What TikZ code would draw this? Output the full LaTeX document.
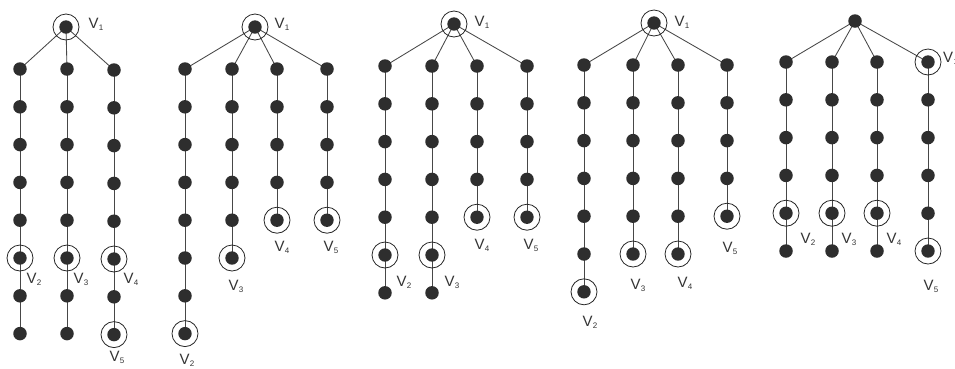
\documentclass[tikz,border=0pt]{standalone}
\usepackage{fontspec}
\setmainfont{Liberation Sans}
\usetikzlibrary{positioning,backgrounds}

\newcommand{\vname}[1]{V\kern0.3pt\raisebox{-2.2pt}{\fontsize{8}{8}\selectfont#1}}

\begin{document}
\begin{tikzpicture}[x=1pt,y=-1pt,node distance=37.8pt,
                    dot node/.style={circle,fill=black!82,minimum size=13.5pt,inner sep=0pt},
                    ring node/.style={circle,draw=black!85,line width=0.8pt,minimum size=26pt,inner sep=0pt,
                      path picture={\fill[black!82] (path picture bounding box.center) circle (6.7pt);}},
                    vlabel/.style={inner sep=0pt,text=black!80,font=\fontsize{15}{15}\selectfont},
                    every edge/.style={draw=black!72,line width=0.85pt}]

  \useasboundingbox (0,0) rectangle (955,368);

  % first tree
  \node[ring node] (R1) at (66,27) {};
  \node[dot node] (1A1) at (20,69) {};
  \node[dot node] (1A2) [below of=1A1] {};
  \node[dot node] (1A3) [below of=1A2] {};
  \node[dot node] (1A4) [below of=1A3] {};
  \node[dot node] (1A5) [below of=1A4] {};
  \node[ring node] (1A6) [below of=1A5] {};
  \node[dot node] (1A7) [below of=1A6] {};
  \node[dot node] (1A8) [below of=1A7] {};
  \node[dot node] (1B1) at (67,69) {};
  \node[dot node] (1B2) [below of=1B1] {};
  \node[dot node] (1B3) [below of=1B2] {};
  \node[dot node] (1B4) [below of=1B3] {};
  \node[dot node] (1B5) [below of=1B4] {};
  \node[ring node] (1B6) [below of=1B5] {};
  \node[dot node] (1B7) [below of=1B6] {};
  \node[dot node] (1B8) [below of=1B7] {};
  \node[dot node] (1C1) at (114,70) {};
  \node[dot node] (1C2) [below of=1C1] {};
  \node[dot node] (1C3) [below of=1C2] {};
  \node[dot node] (1C4) [below of=1C3] {};
  \node[dot node] (1C5) [below of=1C4] {};
  \node[ring node] (1C6) [below of=1C5] {};
  \node[dot node] (1C7) [below of=1C6] {};
  \node[ring node] (1C8) [below of=1C7] {};
  \node[vlabel] (1L1) at (96,24) {\vname{1}};
  \node[vlabel] (1L2) at (34,279) {\vname{2}};
  \node[vlabel] (1L3) at (81,279) {\vname{3}};
  \node[vlabel] (1L4) at (131,279) {\vname{4}};
  \node[vlabel] (1L5) at (117,357) {\vname{5}};

  % second tree
  \node[ring node] (R2) at (255,27) {};
  \node[dot node] (2A1) at (185,69) {};
  \node[dot node] (2A2) [below of=2A1] {};
  \node[dot node] (2A3) [below of=2A2] {};
  \node[dot node] (2A4) [below of=2A3] {};
  \node[dot node] (2A5) [below of=2A4] {};
  \node[dot node] (2A6) [below of=2A5] {};
  \node[dot node] (2A7) [below of=2A6] {};
  \node[ring node] (2A8) [below of=2A7] {};
  \node[dot node] (2B1) at (232,69) {};
  \node[dot node] (2B2) [below of=2B1] {};
  \node[dot node] (2B3) [below of=2B2] {};
  \node[dot node] (2B4) [below of=2B3] {};
  \node[dot node] (2B5) [below of=2B4] {};
  \node[ring node] (2B6) [below of=2B5] {};
  \node[dot node] (2C1) at (277,69) {};
  \node[dot node] (2C2) [below of=2C1] {};
  \node[dot node] (2C3) [below of=2C2] {};
  \node[dot node] (2C4) [below of=2C3] {};
  \node[ring node] (2C5) [below of=2C4] {};
  \node[dot node] (2D1) at (327,69) {};
  \node[dot node] (2D2) [below of=2D1] {};
  \node[dot node] (2D3) [below of=2D2] {};
  \node[dot node] (2D4) [below of=2D3] {};
  \node[ring node] (2D5) [below of=2D4] {};
  \node[vlabel] (2L1) at (282,24) {\vname{1}};
  \node[vlabel] (2L2) at (187,360) {\vname{2}};
  \node[vlabel] (2L3) at (236,286) {\vname{3}};
  \node[vlabel] (2L4) at (282,247) {\vname{4}};
  \node[vlabel] (2L5) at (331,247) {\vname{5}};

  % third tree
  \node[ring node] (R3) at (454,24) {};
  \node[dot node] (3A1) at (385,66) {};
  \node[dot node] (3A2) [below of=3A1] {};
  \node[dot node] (3A3) [below of=3A2] {};
  \node[dot node] (3A4) [below of=3A3] {};
  \node[dot node] (3A5) [below of=3A4] {};
  \node[ring node] (3A6) [below of=3A5] {};
  \node[dot node] (3A7) [below of=3A6] {};
  \node[dot node] (3B1) at (432,66) {};
  \node[dot node] (3B2) [below of=3B1] {};
  \node[dot node] (3B3) [below of=3B2] {};
  \node[dot node] (3B4) [below of=3B3] {};
  \node[dot node] (3B5) [below of=3B4] {};
  \node[ring node] (3B6) [below of=3B5] {};
  \node[dot node] (3B7) [below of=3B6] {};
  \node[dot node] (3C1) at (477,66) {};
  \node[dot node] (3C2) [below of=3C1] {};
  \node[dot node] (3C3) [below of=3C2] {};
  \node[dot node] (3C4) [below of=3C3] {};
  \node[ring node] (3C5) [below of=3C4] {};
  \node[dot node] (3D1) at (527,66) {};
  \node[dot node] (3D2) [below of=3D1] {};
  \node[dot node] (3D3) [below of=3D2] {};
  \node[dot node] (3D4) [below of=3D3] {};
  \node[ring node] (3D5) [below of=3D4] {};
  \node[vlabel] (3L1) at (482,22) {\vname{1}};
  \node[vlabel] (3L2) at (404,282) {\vname{2}};
  \node[vlabel] (3L3) at (452,282) {\vname{3}};
  \node[vlabel] (3L4) at (482,245) {\vname{4}};
  \node[vlabel] (3L5) at (531,245) {\vname{5}};

  % fourth tree
  \node[ring node] (R4) at (654,23) {};
  \node[dot node] (4A1) at (584,65) {};
  \node[dot node] (4A2) [below of=4A1] {};
  \node[dot node] (4A3) [below of=4A2] {};
  \node[dot node] (4A4) [below of=4A3] {};
  \node[dot node] (4A5) [below of=4A4] {};
  \node[dot node] (4A6) [below of=4A5] {};
  \node[ring node] (4A7) [below of=4A6] {};
  \node[dot node] (4B1) at (633,65) {};
  \node[dot node] (4B2) [below of=4B1] {};
  \node[dot node] (4B3) [below of=4B2] {};
  \node[dot node] (4B4) [below of=4B3] {};
  \node[dot node] (4B5) [below of=4B4] {};
  \node[ring node] (4B6) [below of=4B5] {};
  \node[dot node] (4C1) at (678,65) {};
  \node[dot node] (4C2) [below of=4C1] {};
  \node[dot node] (4C3) [below of=4C2] {};
  \node[dot node] (4C4) [below of=4C3] {};
  \node[dot node] (4C5) [below of=4C4] {};
  \node[ring node] (4C6) [below of=4C5] {};
  \node[dot node] (4D1) at (727,65) {};
  \node[dot node] (4D2) [below of=4D1] {};
  \node[dot node] (4D3) [below of=4D2] {};
  \node[dot node] (4D4) [below of=4D3] {};
  \node[ring node] (4D5) [below of=4D4] {};
  \node[vlabel] (4L1) at (682,22) {\vname{1}};
  \node[vlabel] (4L2) at (590,322) {\vname{2}};
  \node[vlabel] (4L3) at (638,285) {\vname{3}};
  \node[vlabel] (4L4) at (685,283) {\vname{4}};
  \node[vlabel] (4L5) at (730,248) {\vname{5}};

  % fifth tree
  \node[dot node] (R5) at (855,21) {};
  \node[dot node] (5A1) at (786,62) {};
  \node[dot node] (5A2) [below of=5A1] {};
  \node[dot node] (5A3) [below of=5A2] {};
  \node[dot node] (5A4) [below of=5A3] {};
  \node[ring node] (5A5) [below of=5A4] {};
  \node[dot node] (5A6) [below of=5A5] {};
  \node[dot node] (5B1) at (832,62) {};
  \node[dot node] (5B2) [below of=5B1] {};
  \node[dot node] (5B3) [below of=5B2] {};
  \node[dot node] (5B4) [below of=5B3] {};
  \node[ring node] (5B5) [below of=5B4] {};
  \node[dot node] (5B6) [below of=5B5] {};
  \node[dot node] (5C1) at (877,62) {};
  \node[dot node] (5C2) [below of=5C1] {};
  \node[dot node] (5C3) [below of=5C2] {};
  \node[dot node] (5C4) [below of=5C3] {};
  \node[ring node] (5C5) [below of=5C4] {};
  \node[dot node] (5C6) [below of=5C5] {};
  \node[ring node] (5D1) at (928,62) {};
  \node[dot node] (5D2) [below of=5D1] {};
  \node[dot node] (5D3) [below of=5D2] {};
  \node[dot node] (5D4) [below of=5D3] {};
  \node[dot node] (5D5) [below of=5D4] {};
  \node[ring node] (5D6) [below of=5D5] {};
  \node[vlabel,anchor=west] (5L1) at (943,58) {\vname{1}};
  \node[vlabel] (5L2) at (808,239) {\vname{2}};
  \node[vlabel] (5L3) at (849,239) {\vname{3}};
  \node[vlabel] (5L4) at (894,239) {\vname{4}};
  \node[vlabel] (5L5) at (931,286) {\vname{5}};

  \begin{scope}[on background layer]
  \path
    (R1.center) edge (1A1.center) (R1.center) edge (1B1.center) (R1.center) edge (1C1.center)
    (1A1.center) edge (1A2.center) (1A2.center) edge (1A3.center) (1A3.center) edge (1A4.center)
    (1A4.center) edge (1A5.center) (1A5.center) edge (1A6.center) (1A6.center) edge (1A7.center)
    (1A7.center) edge (1A8.center)
    (1B1.center) edge (1B2.center) (1B2.center) edge (1B3.center) (1B3.center) edge (1B4.center)
    (1B4.center) edge (1B5.center) (1B5.center) edge (1B6.center) (1B6.center) edge (1B7.center)
    (1B7.center) edge (1B8.center)
    (1C1.center) edge (1C2.center) (1C2.center) edge (1C3.center) (1C3.center) edge (1C4.center)
    (1C4.center) edge (1C5.center) (1C5.center) edge (1C6.center) (1C6.center) edge (1C7.center)
    (1C7.center) edge (1C8.center);
  \path
    (R2.center) edge (2A1.center) (R2.center) edge (2B1.center) (R2.center) edge (2C1.center)
    (R2.center) edge (2D1.center)
    (2A1.center) edge (2A2.center) (2A2.center) edge (2A3.center) (2A3.center) edge (2A4.center)
    (2A4.center) edge (2A5.center) (2A5.center) edge (2A6.center) (2A6.center) edge (2A7.center)
    (2A7.center) edge (2A8.center)
    (2B1.center) edge (2B2.center) (2B2.center) edge (2B3.center) (2B3.center) edge (2B4.center)
    (2B4.center) edge (2B5.center) (2B5.center) edge (2B6.center)
    (2C1.center) edge (2C2.center) (2C2.center) edge (2C3.center) (2C3.center) edge (2C4.center)
    (2C4.center) edge (2C5.center)
    (2D1.center) edge (2D2.center) (2D2.center) edge (2D3.center) (2D3.center) edge (2D4.center)
    (2D4.center) edge (2D5.center);
  \path
    (R3.center) edge (3A1.center) (R3.center) edge (3B1.center) (R3.center) edge (3C1.center)
    (R3.center) edge (3D1.center)
    (3A1.center) edge (3A2.center) (3A2.center) edge (3A3.center) (3A3.center) edge (3A4.center)
    (3A4.center) edge (3A5.center) (3A5.center) edge (3A6.center) (3A6.center) edge (3A7.center)
    (3B1.center) edge (3B2.center) (3B2.center) edge (3B3.center) (3B3.center) edge (3B4.center)
    (3B4.center) edge (3B5.center) (3B5.center) edge (3B6.center) (3B6.center) edge (3B7.center)
    (3C1.center) edge (3C2.center) (3C2.center) edge (3C3.center) (3C3.center) edge (3C4.center)
    (3C4.center) edge (3C5.center)
    (3D1.center) edge (3D2.center) (3D2.center) edge (3D3.center) (3D3.center) edge (3D4.center)
    (3D4.center) edge (3D5.center);
  \path
    (R4.center) edge (4A1.center) (R4.center) edge (4B1.center) (R4.center) edge (4C1.center)
    (R4.center) edge (4D1.center)
    (4A1.center) edge (4A2.center) (4A2.center) edge (4A3.center) (4A3.center) edge (4A4.center)
    (4A4.center) edge (4A5.center) (4A5.center) edge (4A6.center) (4A6.center) edge (4A7.center)
    (4B1.center) edge (4B2.center) (4B2.center) edge (4B3.center) (4B3.center) edge (4B4.center)
    (4B4.center) edge (4B5.center) (4B5.center) edge (4B6.center)
    (4C1.center) edge (4C2.center) (4C2.center) edge (4C3.center) (4C3.center) edge (4C4.center)
    (4C4.center) edge (4C5.center) (4C5.center) edge (4C6.center)
    (4D1.center) edge (4D2.center) (4D2.center) edge (4D3.center) (4D3.center) edge (4D4.center)
    (4D4.center) edge (4D5.center);
  \path
    (R5.center) edge (5A1.center) (R5.center) edge (5B1.center) (R5.center) edge (5C1.center)
    (R5.center) edge (5D1.center)
    (5A1.center) edge (5A2.center) (5A2.center) edge (5A3.center) (5A3.center) edge (5A4.center)
    (5A4.center) edge (5A5.center) (5A5.center) edge (5A6.center)
    (5B1.center) edge (5B2.center) (5B2.center) edge (5B3.center) (5B3.center) edge (5B4.center)
    (5B4.center) edge (5B5.center) (5B5.center) edge (5B6.center)
    (5C1.center) edge (5C2.center) (5C2.center) edge (5C3.center) (5C3.center) edge (5C4.center)
    (5C4.center) edge (5C5.center) (5C5.center) edge (5C6.center)
    (5D1.center) edge (5D2.center) (5D2.center) edge (5D3.center) (5D3.center) edge (5D4.center)
    (5D4.center) edge (5D5.center) (5D5.center) edge (5D6.center);
  \end{scope}
\end{tikzpicture}
\end{document}
